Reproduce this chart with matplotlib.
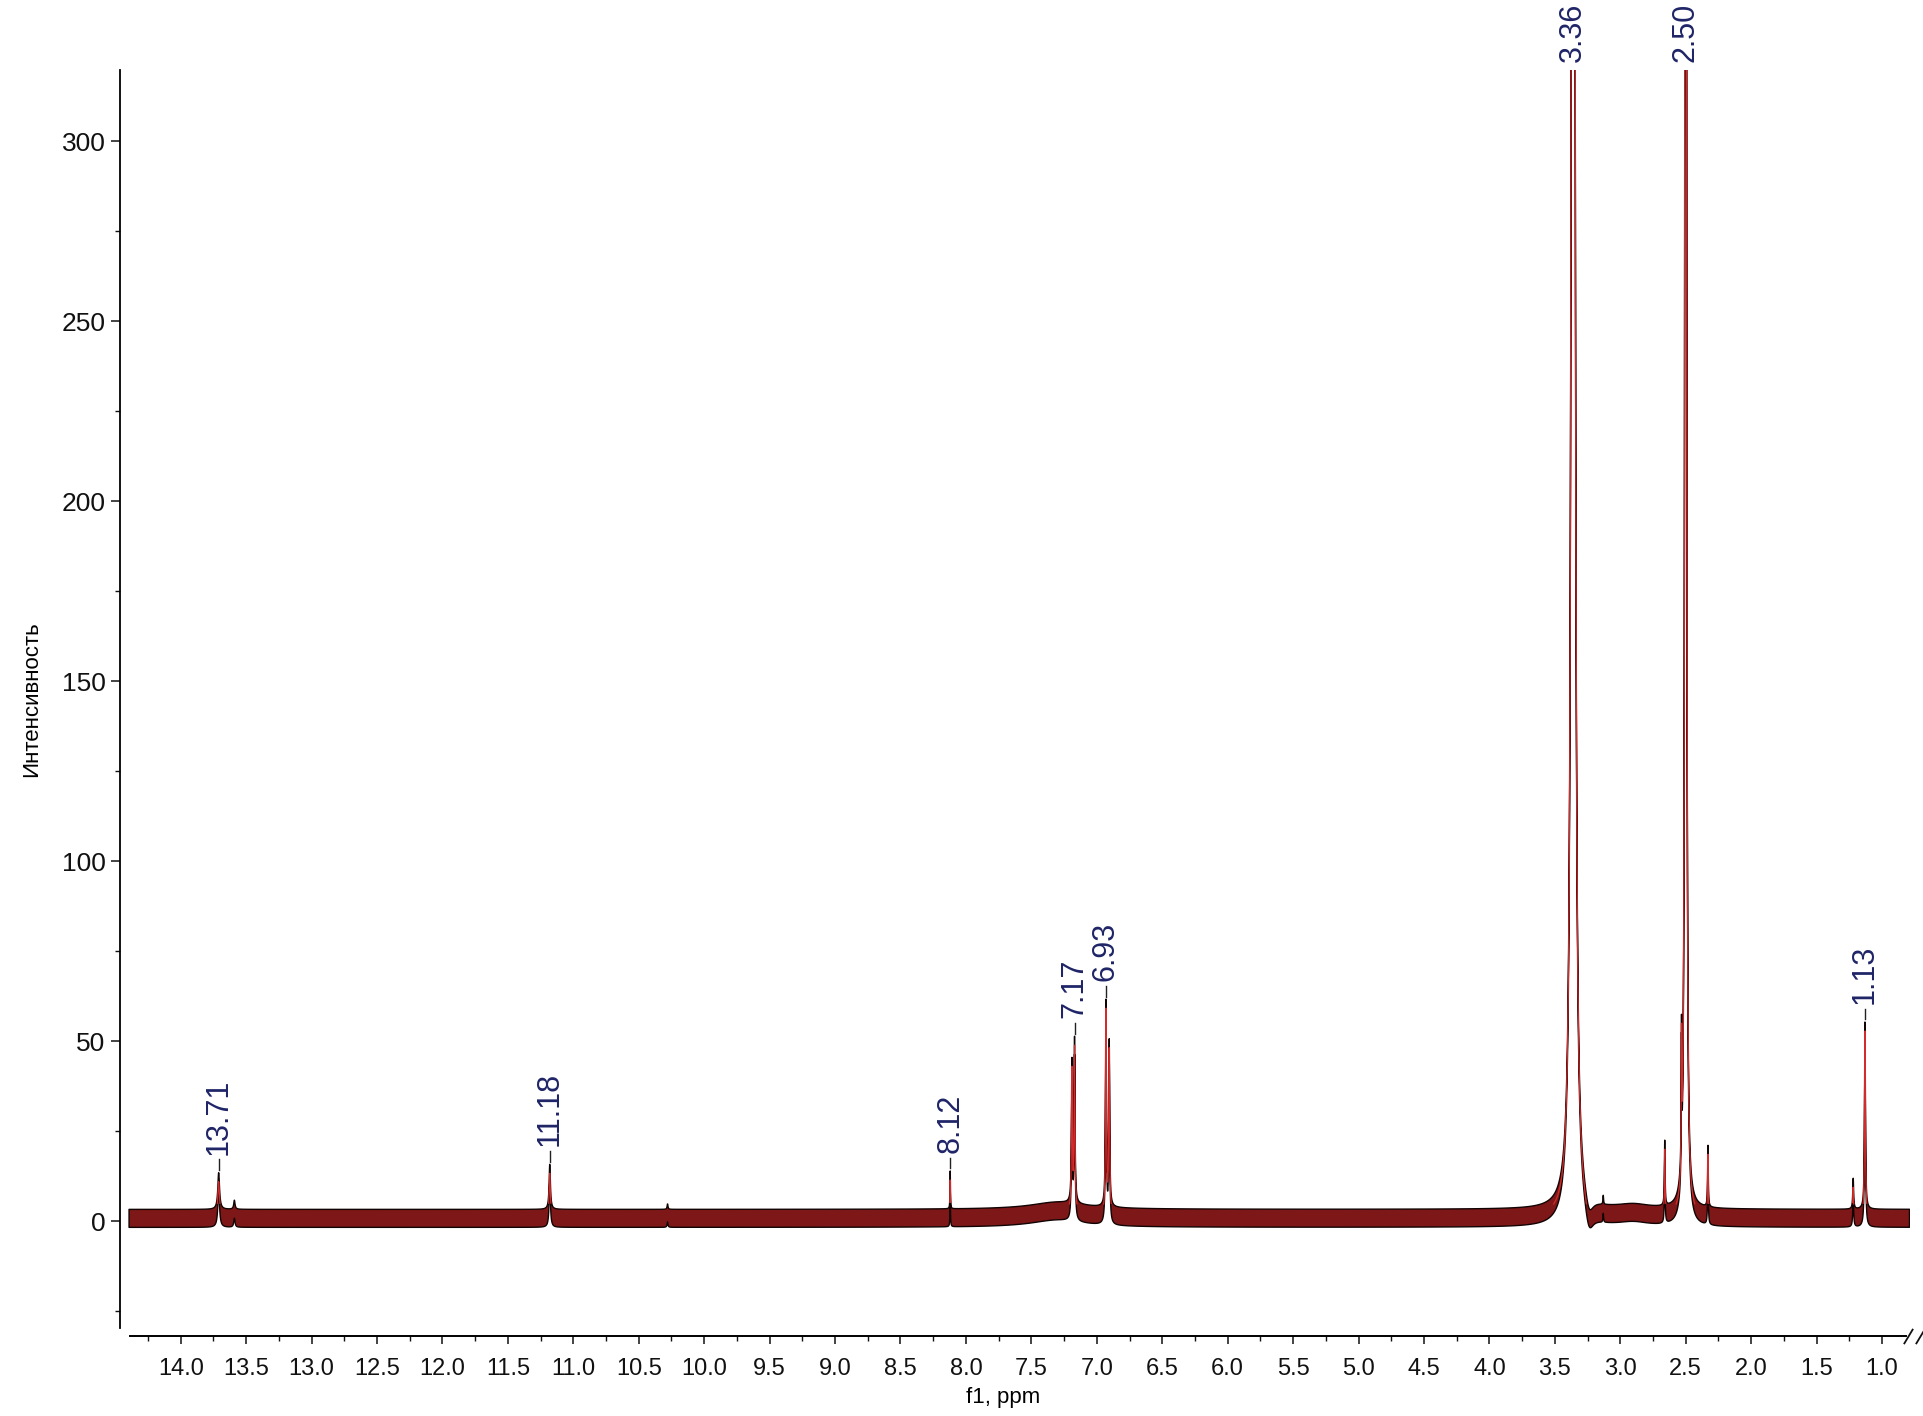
import numpy as np
import matplotlib
matplotlib.use('Agg')
import matplotlib.pyplot as plt
from matplotlib import font_manager, transforms
from matplotlib.ticker import FixedLocator, MultipleLocator

# 1H NMR peak table: shift (ppm), height, half-width (ppm)
peak_ppm = [13.71, 13.59, 11.18, 10.28, 8.12, 7.30, 7.19, 7.17, 6.93, 6.905,
            3.36, 3.24, 3.13, 2.90, 2.66, 2.532, 2.50, 2.33, 1.22, 1.13]
peak_height = [10.2, 2.5, 12.5, 1.5, 10.5, 2.0, 38.8, 45.0, 56.6, 45.5,
               3600.0, -6.0, 2.5, 1.2, 18.0, 36.0, 4600.0, 17.0, 8.5, 52.0]
peak_width = [0.008, 0.006, 0.006, 0.004, 0.002, 0.25, 0.004, 0.004, 0.004, 0.004,
              0.005, 0.04, 0.003, 0.15, 0.003, 0.0025, 0.002, 0.003, 0.004, 0.004]

baseline_level = 0.85   # centre of the noise band
noise_half = 2.5        # half thickness of the noise band

# labelled peaks
label_ppm = [13.71, 11.18, 8.12, 7.17, 6.93, 3.36, 2.50, 1.13]
label_text = ['13.71', '11.18', '8.12', '7.17', '6.93', '3.36', '2.50', '1.13']

x_ticks = [14.0, 13.5, 13.0, 12.5, 12.0, 11.5, 11.0, 10.5, 10.0, 9.5, 9.0, 8.5, 8.0,
           7.5, 7.0, 6.5, 6.0, 5.5, 5.0, 4.5, 4.0, 3.5, 3.0, 2.5, 2.0, 1.5, 1.0]
y_ticks = [0, 50, 100, 150, 200, 250, 300]

# fonts
names = {f.name for f in font_manager.fontManager.ttflist}
if 'Liberation Sans Narrow' in names:
    label_family, label_size = 'Liberation Sans Narrow', 26
else:
    label_family, label_size = 'Liberation Sans', 22
plt.rcParams['font.family'] = ['Liberation Sans', 'DejaVu Sans']

# build spectrum from the peak table (Lorentzian lines)
ppm = np.arange(0.79, 14.395, 0.0004)
spec = np.full_like(ppm, baseline_level)
for p, h, w in zip(peak_ppm, peak_height, peak_width):
    spec += h / (1.0 + ((ppm - p) / w) ** 2)

W, H = 1924, 1416
fig = plt.figure(figsize=(W / 100, H / 100), dpi=100)
ax = fig.add_axes([120 / W, 88 / H, 1790 / W, 1258.5 / H])

ax.fill_between(ppm, spec - noise_half, spec + noise_half,
                facecolor='#7e1717', edgecolor='#120404', linewidth=1.0, zorder=2)
# red trace only where it rises out of the noise band
trace = np.where(spec - baseline_level > 4, spec, np.nan)
ax.plot(ppm, trace, color='#d42a2a', linewidth=0.9, zorder=3)

ax.set_xlim(14.464, 0.786)
ax.set_ylim(-29.6, 320)

# peak labels with short connector lines
navy = '#1e2466'
for p, s in zip(label_ppm, label_text):
    near = np.abs(ppm - p) < 0.006
    top = min(spec[near].max() + noise_half, 320)
    ly = min(top + 5, 322.2)
    if ly - top > 2.5:
        ax.plot([p, p], [top + 0.7, ly - 1.3], color='#222222', linewidth=1.0,
                zorder=4, clip_on=False)
    ax.text(p, ly, s, rotation=90, rotation_mode='anchor', ha='left', va='center',
            fontsize=label_size, family=label_family, color=navy, clip_on=False)

# axes styling
for side in ['top', 'right']:
    ax.spines[side].set_visible(False)
ax.spines['left'].set_linewidth(1.3)
ax.spines['bottom'].set_linewidth(1.4)
ax.spines['bottom'].set_position(('outward', 5.8))
ax.spines['bottom'].set_bounds(14.39, 0.82)

ax.xaxis.set_major_locator(FixedLocator(x_ticks))
ax.set_xticklabels([f'{t:.1f}' for t in x_ticks])
ax.xaxis.set_minor_locator(MultipleLocator(0.25))
ax.yaxis.set_major_locator(FixedLocator(y_ticks))
ax.set_yticklabels([str(t) for t in y_ticks])
ax.yaxis.set_minor_locator(MultipleLocator(25))

ax.tick_params(axis='x', which='major', length=5.8, width=1.1, pad=10, labelsize=17, colors='#111111')
ax.tick_params(axis='x', which='minor', length=3.4, width=1.0, colors='#111111')
ax.tick_params(axis='y', which='major', length=6.5, width=1.1, pad=4, labelsize=19, colors='#111111')
ax.tick_params(axis='y', which='minor', length=3.3, width=1.0, colors='#111111')

ax.set_xlabel('f1, ppm', fontsize=16)
ax.xaxis.set_label_coords(0.4933, -0.047)
ax.xaxis.label.set_va('top')
ax.set_ylabel('Интенсивность', fontsize=16)
ax.yaxis.set_label_coords(-0.0436, 0.5)

# axis-break marks at the right end of the ppm axis
off = transforms.ScaledTranslation(0, -0.08, fig.dpi_scale_trans)
trans = transforms.blended_transform_factory(ax.transData, ax.transAxes) + off
ax.plot([0.805, 0.71], [0, 0], transform=trans, marker=[(-0.6, -1), (0.6, 1)],
        markersize=11, linestyle='none', color='#111111', mew=1.3, clip_on=False)

fig.savefig('out.png', dpi=100)
